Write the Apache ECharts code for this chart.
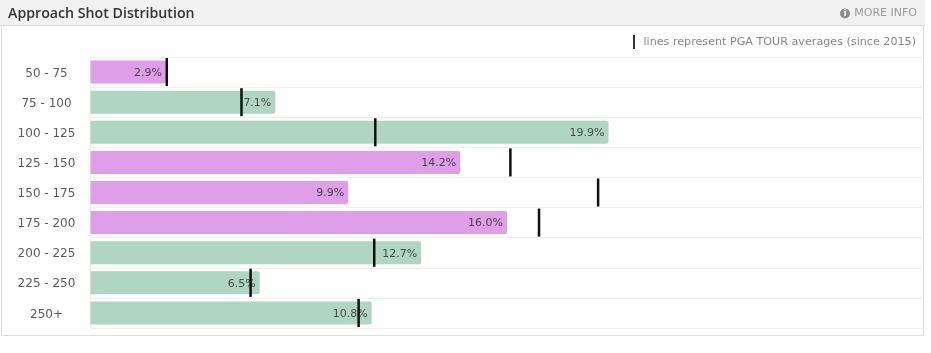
<!DOCTYPE html>
<html>
<head>
<meta charset="utf-8">
<style>
  html, body { margin: 0; padding: 0; background: #fff; }
  #main { width: 931px; height: 353px; }
</style>
<script src="https://cdn.jsdelivr.net/npm/echarts@6/dist/echarts.min.js"></script>
</head>
<body>
<div id="main"></div>
<script>
const categories = ['50 - 75', '75 - 100', '100 - 125', '125 - 150', '150 - 175', '175 - 200', '200 - 225', '225 - 250', '250+'];
const shotShare = [2.9, 7.1, 19.9, 14.2, 9.9, 16.0, 12.7, 6.5, 10.8];
const tourAverage = [2.93, 5.8, 10.94, 16.13, 19.5, 17.23, 10.9, 6.15, 10.3];

const FONT = '"DejaVu Sans", sans-serif';
const GREEN = '#b0d5c3';
const PURPLE = '#df9ee8';

const myChart = echarts.init(document.getElementById('main'));

const option = {
  animation: false,
  backgroundColor: '#fff',
  textStyle: { fontFamily: FONT },
  title: {
    text: 'Approach Shot Distribution',
    left: 8,
    top: 7,
    padding: 0,
    textStyle: { fontFamily: '"Open Sans", sans-serif', fontSize: 14.2, fontWeight: 600, color: '#333' },
  },
  grid: { left: 90.5, top: 57, width: 833, height: 271 },
  xAxis: {
    type: 'value',
    min: 0,
    max: 32,
    show: false,
  },
  yAxis: {
    type: 'category',
    inverse: true,
    data: categories,
    axisTick: { show: false },
    axisLine: { show: true, lineStyle: { color: '#f0f0f0' } },
    axisLabel: { color: '#5c5c5c', fontSize: 12, fontFamily: FONT, margin: 44, align: 'center', verticalAlign: 'top', lineHeight: 3 },
    splitLine: { show: true, lineStyle: { color: '#f0f0f0', width: 1 } },
  },
  series: [
    {
      name: 'Shots',
      type: 'bar',
      barWidth: 23,
      data: shotShare.map((v, i) => ({
        value: v,
        itemStyle: { color: v > tourAverage[i] ? GREEN : PURPLE },
      })),
      itemStyle: { borderRadius: [0, 2, 2, 0] },
      label: {
        show: true,
        position: 'insideRight',
        distance: 4,
        offset: [0, 1],
        color: 'rgba(40,40,40,0.8)',
        fontFamily: FONT,
        fontSize: 11,
        formatter: (p) => p.value.toFixed(1) + '%',
      },
    },
    {
      name: 'PGA TOUR average',
      type: 'custom',
      z: 5,
      data: tourAverage.map((v, i) => [v, i]),
      encode: { x: 0, y: 1 },
      renderItem: (params, api) => {
        const p = api.coord([api.value(0), api.value(1)]);
        const h = api.size([0, 1])[1] - 2;
        return {
          type: 'rect',
          shape: { x: p[0] - 1.25, y: p[1] - h / 2, width: 2.5, height: h },
          style: { fill: '#111' },
        };
      },
    },
  ],
  graphic: [
    // panel
    { type: 'rect', silent: true, z: -10, shape: { x: 1.5, y: 0.5, width: 922, height: 335 }, style: { fill: '#fff', stroke: '#dedede' } },
    { type: 'rect', silent: true, z: -9, shape: { x: 0, y: 0, width: 925, height: 26 }, style: { fill: '#f1f1f1' } },
    { type: 'rect', silent: true, z: -9, shape: { x: 0, y: 25, width: 925, height: 1 }, style: { fill: '#dddddd' } },
    // more info
    { type: 'circle', silent: true, shape: { cx: 845, cy: 13.5, r: 5 }, style: { fill: '#8c8c8c' } },
    { type: 'text', silent: true, x: 845, y: 13.5, style: { text: 'i', fill: '#fff', fontSize: 8, fontWeight: 700, fontFamily: FONT, align: 'center', verticalAlign: 'middle' } },
    { type: 'text', silent: true, x: 917, y: 13.5, style: { text: 'MORE INFO', fill: '#9a9a9a', fontSize: 11, fontFamily: FONT, align: 'right', verticalAlign: 'middle' } },
    // key for the lines
    { type: 'rect', silent: true, shape: { x: 633, y: 35, width: 2, height: 14 }, style: { fill: '#333' } },
    { type: 'text', silent: true, x: 916, y: 42, style: { text: 'lines represent PGA TOUR averages (since 2015)', fill: '#888', fontSize: 11.15, fontFamily: FONT, align: 'right', verticalAlign: 'middle' } },
  ],
};

myChart.setOption(option);
</script>
</body>
</html>
